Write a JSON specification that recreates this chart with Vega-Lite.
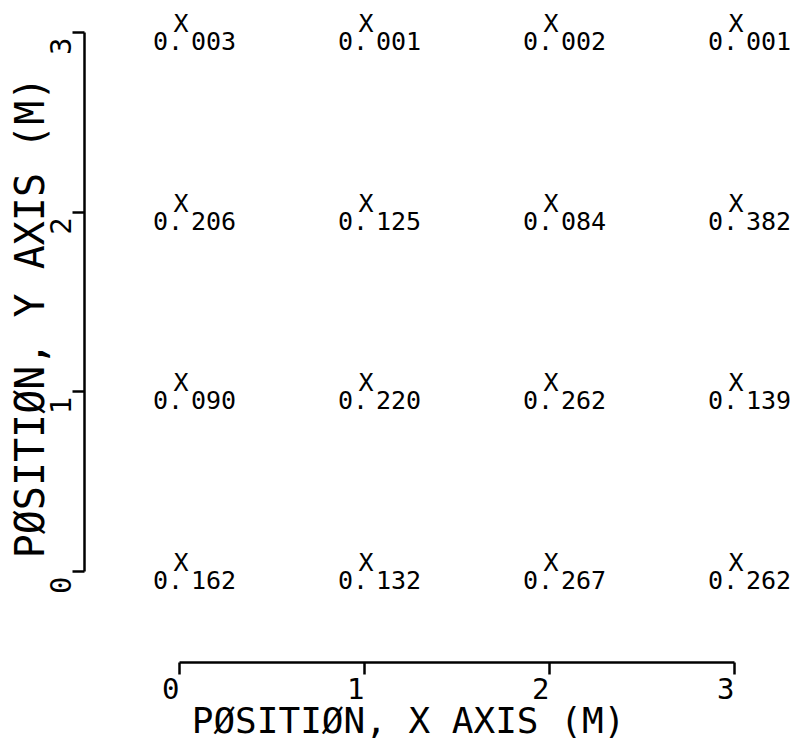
{
  "$schema": "https://vega.github.io/schema/vega-lite/v6.json",
  "width": 555,
  "height": 539,
  "autosize": {"type": "none"},
  "padding": {"left": 179, "top": 32, "right": 68, "bottom": 169},
  "background": "white",
  "config": {
    "view": {"stroke": null},
    "font": "DejaVu Sans Mono",
    "axis": {
      "grid": false,
      "domainColor": "black",
      "domainWidth": 2.5,
      "tickColor": "black",
      "tickWidth": 2.5,
      "tickSize": 12,
      "labelColor": "black",
      "titleColor": "black",
      "labelFont": "DejaVu Sans Mono",
      "titleFont": "DejaVu Sans Mono",
      "titleFontWeight": "normal"
    }
  },
  "data": {
    "values": [
      {"x": 0, "y": 3, "value": 0.003},
      {"x": 1, "y": 3, "value": 0.001},
      {"x": 2, "y": 3, "value": 0.002},
      {"x": 3, "y": 3, "value": 0.001},
      {"x": 0, "y": 2, "value": 0.206},
      {"x": 1, "y": 2, "value": 0.125},
      {"x": 2, "y": 2, "value": 0.084},
      {"x": 3, "y": 2, "value": 0.382},
      {"x": 0, "y": 1, "value": 0.090},
      {"x": 1, "y": 1, "value": 0.220},
      {"x": 2, "y": 1, "value": 0.262},
      {"x": 3, "y": 1, "value": 0.139},
      {"x": 0, "y": 0, "value": 0.162},
      {"x": 1, "y": 0, "value": 0.132},
      {"x": 2, "y": 0, "value": 0.267},
      {"x": 3, "y": 0, "value": 0.262}
    ]
  },
  "encoding": {
    "x": {
      "field": "x",
      "type": "quantitative",
      "scale": {"domain": [0, 3], "nice": false, "zero": false},
      "axis": {
        "values": [0, 1, 2, 3],
        "format": "d",
        "offset": 91,
        "labelFontSize": 29,
        "labelAlign": "right",
        "labelBaseline": "top",
        "labelPadding": 1,
        "labelDx": -3,
        "labelFlush": false,
        "title": "PØSITIØN, X AXIS (M)",
        "titleFontSize": 36,
        "titleAlign": "center",
        "titleBaseline": "alphabetic",
        "titleAnchor": "start",
        "titleX": 229,
        "titleY": 70
      }
    },
    "y": {
      "field": "y",
      "type": "quantitative",
      "scale": {"domain": [0, 3], "nice": false, "zero": false},
      "axis": {
        "values": [0, 1, 2, 3],
        "format": "d",
        "offset": 95,
        "labelFontSize": 29,
        "labelAngle": -90,
        "labelAlign": "right",
        "labelBaseline": "alphabetic",
        "labelPadding": 2,
        "labelOffset": 5,
        "labelFlush": false,
        "title": "PØSITIØN, Y AXIS (M)",
        "titleFontSize": 40,
        "titleAngle": -90,
        "titleAlign": "center",
        "titleBaseline": "alphabetic",
        "titleAnchor": "start",
        "titleX": -41,
        "titleY": 285
      }
    }
  },
  "layer": [
    {
      "mark": {"type": "text", "text": "X", "fontSize": 25, "font": "DejaVu Sans Mono", "baseline": "alphabetic", "align": "center", "dx": 2, "color": "black"}
    },
    {
      "mark": {"type": "text", "text": "0.", "fontSize": 25, "font": "DejaVu Sans Mono", "baseline": "alphabetic", "align": "right", "dx": 4, "dy": 18, "color": "black"}
    },
    {
      "mark": {
        "type": "text",
        "text": {"expr": "substring(format(datum.value, '.3f'), 2)"},
        "fontSize": 25,
        "font": "DejaVu Sans Mono",
        "baseline": "alphabetic",
        "align": "left",
        "dx": 12,
        "dy": 18,
        "color": "black"
      }
    }
  ]
}
